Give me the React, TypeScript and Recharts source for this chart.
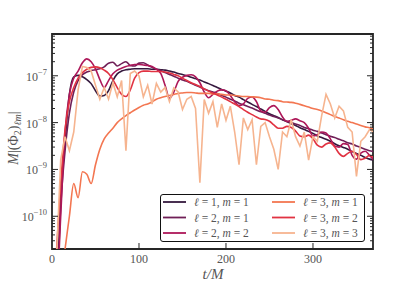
import React from 'react';
import { LineChart, Line, XAxis, YAxis, ReferenceArea, Legend } from 'recharts';

// time grid (t/M)
const tValues = [
  0, 5, 10, 15, 20, 25, 30, 35, 40, 45, 50, 55, 60, 65, 70, 75, 80, 85, 90, 95,
  100, 105, 110, 115, 120, 125, 130, 135, 140, 145, 150, 155, 160, 165, 170, 175, 180, 185, 190, 195,
  200, 205, 210, 215, 220, 225, 230, 235, 240, 245, 250, 255, 260, 265, 270, 275, 280, 285, 290, 295,
  300, 305, 310, 315, 320, 325, 330, 335, 340, 345, 350, 355, 360, 365, 370,
];

const l1m1 = [
  1e-13, 1e-12, 2.5e-10, 4.0e-9, 4.0e-8, 9.5e-8, 1.02e-7, 9.5e-8, 8.3e-8, 6.8e-8,
  4.8e-8, 3.7e-8, 3.8e-8, 4.8e-8, 7.9e-8, 1.1e-7, 1.26e-7, 1.35e-7, 1.38e-7, 1.41e-7,
  1.41e-7, 1.41e-7, 1.41e-7, 1.38e-7, 1.38e-7, 1.35e-7, 1.32e-7, 1.26e-7, 1.2e-7, 1.12e-7,
  1.07e-7, 1.0e-7, 9.3e-8, 8.7e-8, 8.1e-8, 7.4e-8, 6.8e-8, 6.2e-8, 5.6e-8, 5.1e-8,
  4.7e-8, 4.3e-8, 3.8e-8, 3.5e-8, 3.1e-8, 2.75e-8, 2.45e-8, 2.2e-8, 1.95e-8, 1.74e-8,
  1.55e-8, 1.41e-8, 1.29e-8, 1.15e-8, 1.05e-8, 9.5e-9, 8.7e-9, 7.8e-9, 7.1e-9, 6.5e-9,
  5.9e-9, 5.2e-9, 4.8e-9, 4.4e-9, 4.0e-9, 3.55e-9, 3.2e-9, 2.95e-9, 2.7e-9, 2.4e-9,
  2.2e-9, 2.0e-9, 1.8e-9, 1.66e-9, 1.58e-9,
];

const l2m1 = [
  1e-13, 1e-12, 1.6e-10, 2.5e-9, 1.6e-8, 4.5e-8, 7.9e-8, 1.05e-7, 1.2e-7, 1.29e-7,
  1.35e-7, 1.41e-7, 1.55e-7, 1.86e-7, 1.95e-7, 1.62e-7, 1.82e-7, 2.0e-7, 1.66e-7, 1.62e-7,
  1.86e-7, 1.9e-7, 1.7e-7, 1.51e-7, 1.38e-7, 1.29e-7, 1.17e-7, 1.07e-7, 9.8e-8, 8.9e-8,
  8.1e-8, 7.6e-8, 6.9e-8, 6.3e-8, 5.75e-8, 5.25e-8, 4.8e-8, 4.5e-8, 4.2e-8, 3.8e-8,
  3.5e-8, 3.16e-8, 2.9e-8, 2.6e-8, 2.4e-8, 2.2e-8, 2.05e-8, 1.86e-8, 1.7e-8, 1.58e-8,
  1.45e-8, 1.35e-8, 1.26e-8, 1.15e-8, 1.07e-8, 1.0e-8, 9.3e-9, 8.7e-9, 7.9e-9, 7.4e-9,
  6.9e-9, 6.5e-9, 6.0e-9, 5.5e-9, 5.1e-9, 4.8e-9, 4.4e-9, 4.1e-9, 3.7e-9, 3.5e-9,
  3.16e-9, 2.95e-9, 2.7e-9, 2.5e-9, 2.4e-9,
];

const l2m2 = [
  1e-13, 1e-12, 1e-10, 6.3e-9, 4.0e-8, 8.9e-8, 1.26e-7, 1.9e-7, 2.3e-7, 2.0e-7,
  1.41e-7, 8.3e-8, 5.6e-8, 7.9e-8, 1.1e-7, 1.32e-7, 1.45e-7, 1.58e-7, 1.66e-7, 1.74e-7,
  1.74e-7, 1.7e-7, 1.66e-7, 1.58e-7, 1.38e-7, 1.12e-7, 6.3e-8, 3.3e-8, 4.5e-8, 7.6e-8,
  9.3e-8, 1.02e-7, 1.05e-7, 9.5e-8, 7.1e-8, 4.5e-8, 3.4e-8, 4.0e-8, 4.7e-8, 5.0e-8,
  4.8e-8, 3.8e-8, 2.8e-8, 2.3e-8, 2.5e-8, 3.3e-8, 3.55e-8, 2.8e-8, 1.78e-8, 1.66e-8,
  2.1e-8, 2.3e-8, 1.9e-8, 1.32e-8, 1.05e-8, 1.12e-8, 1.2e-8, 1.1e-8, 1.0e-8, 7.6e-9,
  5.2e-9, 5.5e-9, 6.3e-9, 6.0e-9, 4.5e-9, 3.16e-9, 3.0e-9, 3.55e-9, 3.4e-9, 2.0e-9,
  1.66e-9, 2.24e-9, 2.45e-9, 2.0e-9, 1.58e-9,
];

const l3m1 = [
  1e-14, 1e-13, 3.2e-12, 2.0e-11, 1.0e-10, 5.0e-10, 2.5e-10, 8.9e-10, 7.9e-10, 5.0e-10,
  1.26e-9, 2.7e-9, 4.5e-9, 6.0e-9, 7.6e-9, 1.0e-8, 1.2e-8, 1.41e-8, 1.62e-8, 1.86e-8,
  2.1e-8, 2.35e-8, 2.5e-8, 2.75e-8, 3.16e-8, 3.4e-8, 3.6e-8, 3.8e-8, 4.0e-8, 4.2e-8,
  4.3e-8, 4.4e-8, 4.4e-8, 4.3e-8, 4.2e-8, 4.2e-8, 4.2e-8, 4.1e-8, 4.1e-8, 4.0e-8,
  3.9e-8, 3.9e-8, 3.8e-8, 3.7e-8, 3.6e-8, 3.6e-8, 3.55e-8, 3.5e-8, 3.4e-8, 3.2e-8,
  3.16e-8, 3.0e-8, 2.95e-8, 2.8e-8, 2.75e-8, 2.7e-8, 2.6e-8, 2.45e-8, 2.3e-8, 2.15e-8,
  2.0e-8, 1.9e-8, 1.78e-8, 1.62e-8, 1.48e-8, 1.35e-8, 1.26e-8, 1.15e-8, 1.07e-8, 1.0e-8,
  9.3e-9, 8.7e-9, 8.1e-9, 7.8e-9, 7.1e-9,
];

const l3m2 = [
  1e-12, 1.6e-11, 5.0e-10, 7.1e-9, 2.8e-8, 5.6e-8, 8.9e-8, 1.17e-7, 1.38e-7, 1.51e-7,
  1.55e-7, 1.48e-7, 1.32e-7, 1.12e-7, 8.3e-8, 5.6e-8, 4.0e-8, 3.6e-8, 5.0e-8, 8.9e-8,
  1.17e-7, 1.26e-7, 1.26e-7, 1.23e-7, 1.23e-7, 1.23e-7, 1.2e-7, 1.15e-7, 1.07e-7, 1.0e-7,
  8.9e-8, 7.9e-8, 7.1e-8, 6.5e-8, 5.9e-8, 5.25e-8, 4.7e-8, 4.3e-8, 3.9e-8, 3.5e-8,
  3.16e-8, 2.8e-8, 2.5e-8, 2.2e-8, 1.9e-8, 1.66e-8, 1.48e-8, 1.32e-8, 1.2e-8, 1.17e-8,
  1.07e-8, 8.9e-9, 7.6e-9, 7.6e-9, 8.3e-9, 7.9e-9, 6.6e-9, 5.2e-9, 5.0e-9, 5.4e-9,
  4.5e-9, 3.3e-9, 3.0e-9, 3.5e-9, 3.7e-9, 3.0e-9, 2.2e-9, 1.9e-9, 2.2e-9, 2.45e-9,
  2.1e-9, 1.62e-9, 1.74e-9, 2.0e-9, 1.78e-9,
];

const l3m3 = [
  1e-13, 1e-11, 1.6e-9, 5.0e-9, 2.5e-9, 6.3e-9, 5.0e-8, 1.58e-7, 1.51e-7, 1.26e-7,
  6.3e-8, 3.16e-8, 5.6e-8, 3.16e-8, 7.1e-8, 3.55e-8, 7.9e-8, 2.5e-9, 1.12e-7, 1.26e-7,
  1.0e-7, 3.55e-8, 6.3e-8, 2.5e-8, 6.9e-8, 4.5e-8, 5.6e-8, 2.8e-8, 5.5e-8, 4.5e-8,
  1.9e-8, 3.16e-8, 3.6e-8, 2.0e-8, 5.2e-10, 3.1e-8, 1.58e-8, 2.8e-8, 7.9e-9, 2.5e-8,
  1.12e-8, 2.24e-8, 6.3e-9, 1.26e-9, 1.26e-8, 7.1e-9, 1.15e-8, 1.26e-9, 8.3e-9, 1.0e-8,
  5.0e-9, 2.7e-9, 1.0e-9, 6.3e-9, 5.0e-9, 1.15e-8, 5.0e-9, 3.16e-9, 6.3e-9, 1.58e-9,
  5.0e-9, 4.0e-9, 1.41e-8, 4.0e-8, 2.5e-8, 1.26e-8, 2.24e-8, 1.78e-8, 7.9e-9, 6.3e-9,
  7.1e-10, 4.0e-9, 5.0e-9, 7.1e-9, 6.3e-9,
];

const series = [
  { key: 'l1m1', l: 1, m: 1, color: '#35193e', smooth: true },
  { key: 'l2m1', l: 2, m: 1, color: '#701f57', smooth: true },
  { key: 'l2m2', l: 2, m: 2, color: '#ad1759', smooth: true },
  { key: 'l3m1', l: 3, m: 1, color: '#f37651', smooth: true },
  { key: 'l3m2', l: 3, m: 2, color: '#e13342', smooth: true },
  { key: 'l3m3', l: 3, m: 3, color: '#f6b48f', smooth: false },
];

const xTicks = [0, 100, 200, 300];
const yMajorTicks = [1e-10, 1e-9, 1e-8, 1e-7];
const yDomain = [2e-11, 7.8e-7];
const xDomain = [0, 369];

const data = tValues.map((t, i) => ({
  t,
  l1m1: l1m1[i],
  l2m1: l2m1[i],
  l2m2: l2m2[i],
  l3m1: l3m1[i],
  l3m2: l3m2[i],
  l3m3: l3m3[i],
}));

// minor ticks 2..9 x each decade, kept inside the domain
const yTicks: number[] = [];
[1e-11, 1e-10, 1e-9, 1e-8, 1e-7].forEach((d) => {
  for (let k = 1; k <= 9; k++) {
    const v = d * k;
    if (v >= yDomain[0] && v <= yDomain[1]) yTicks.push(v);
  }
});

const W = 415;
const H = 286;
const PLOT_L = 52;
const PLOT_R = 373;
const PLOT_B = 249;
const FRAME = '#262626';
const TEXT = '#555';
const SERIF = "'Liberation Serif', 'DejaVu Serif', serif";

const isMajor = (v: number) => yMajorTicks.some((m) => Math.abs(v / m - 1) < 1e-6);

const YTick = (props: any) => {
  const { y, payload } = props;
  const v = payload.value;
  const major = isMajor(v);
  const len = major ? 6 : 3;
  const exp = Math.round(Math.log10(v));
  return (
    <g>
      <line x1={PLOT_L} x2={PLOT_L + len} y1={y} y2={y} stroke={FRAME} strokeWidth={1} />
      <line x1={PLOT_R - len} x2={PLOT_R} y1={y} y2={y} stroke={FRAME} strokeWidth={1} />
      {major && (
        <text x={47} y={y + 5} textAnchor="end" fill={TEXT} fontSize={12} fontFamily={SERIF}>
          10
          <tspan dy={-6} fontSize={8.5}>
            {'\u2212' + -exp}
          </tspan>
        </text>
      )}
    </g>
  );
};

const XTick = (props: any) => {
  const { x, payload } = props;
  return (
    <g>
      {payload.value !== 0 && (
        <line x1={x} x2={x} y1={PLOT_B} y2={PLOT_B - 6} stroke={FRAME} strokeWidth={1} />
      )}
      <text x={x} y={PLOT_B + 14} textAnchor="middle" fill={TEXT} fontSize={12} fontFamily={SERIF}>
        {payload.value}
      </text>
    </g>
  );
};

const XLabel = () => (
  <text x={213} y={279} textAnchor="middle" fill={TEXT} fontSize={15} fontFamily={SERIF} fontStyle="italic">
    t/M
  </text>
);

const YLabel = () => (
  <text
    x={0}
    y={0}
    transform="translate(18, 138) rotate(-90)"
    textAnchor="middle"
    fill={TEXT}
    fontSize={14}
    fontFamily={SERIF}
  >
    <tspan fontStyle="italic">M</tspan>
    <tspan>|(Φ</tspan>
    <tspan fontSize={10} dy={3}>2</tspan>
    <tspan dy={-3}>)</tspan>
    <tspan fontSize={10} dy={3} fontStyle="italic">ℓm</tspan>
    <tspan dy={-3}>|</tspan>
  </text>
);

const LegendBox = () => {
  const rows = [0, 1, 2];
  return (
    <div
      style={{
        width: 205,
        height: 48,
        boxSizing: 'border-box',
        border: '1.2px solid #111',
        borderRadius: 3,
        background: '#fff',
        position: 'relative',
      }}
    >
      <svg width={205} height={48} style={{ position: 'absolute', left: -1, top: -1 }}>
        {series.map((s, i) => {
          const col = i < 3 ? 0 : 1;
          const row = rows[i % 3];
          const x0 = col === 0 ? 3 : 112;
          const y = 8 + row * 15.5;
          return (
            <g key={s.key}>
              <line x1={x0} x2={x0 + 23} y1={y} y2={y} stroke={s.color} strokeWidth={1.8} />
              <text x={x0 + 31} y={y + 4} fill={TEXT} fontSize={11.5} fontFamily={SERIF}>
                <tspan fontStyle="italic">ℓ</tspan>
                {` = ${s.l}, `}
                <tspan fontStyle="italic">m</tspan>
                {` = ${s.m}`}
              </text>
            </g>
          );
        })}
      </svg>
    </div>
  );
};

export default function App() {
  return (
    <div style={{ position: 'absolute', left: 0, top: 0, width: W, height: H, background: '#fff' }}>
      <LineChart width={W} height={H} data={data} margin={{ top: 34, right: W - PLOT_R, bottom: 0, left: 0 }}>
        <XAxis
          dataKey="t"
          type="number"
          domain={xDomain}
          ticks={xTicks}
          allowDataOverflow
          axisLine={false}
          tickLine={false}
          height={H - PLOT_B}
          tick={<XTick />}
          label={{ content: <XLabel /> }}
        />
        <YAxis
          type="number"
          scale="log"
          domain={yDomain}
          ticks={yTicks}
          allowDataOverflow
          axisLine={false}
          tickLine={false}
          width={PLOT_L}
          tick={<YTick />}
          interval={0}
          label={{ content: <YLabel /> }}
        />
        {series.map((s) => (
          <Line
            key={s.key}
            dataKey={s.key}
            type={s.smooth ? 'monotone' : 'linear'}
            stroke={s.color}
            strokeWidth={1.6}
            dot={false}
            activeDot={false}
            isAnimationActive={false}
          />
        ))}
        <ReferenceArea
          x1={xDomain[0]}
          x2={xDomain[1]}
          y1={yDomain[0]}
          y2={yDomain[1]}
          fill="none"
          stroke={FRAME}
          strokeWidth={1.8}
        />
        <Legend
          layout="vertical"
          align="center"
          verticalAlign="middle"
          wrapperStyle={{ left: 160, top: 194, width: 205, height: 48 }}
          content={() => <LegendBox />}
        />
      </LineChart>
    </div>
  );
}
